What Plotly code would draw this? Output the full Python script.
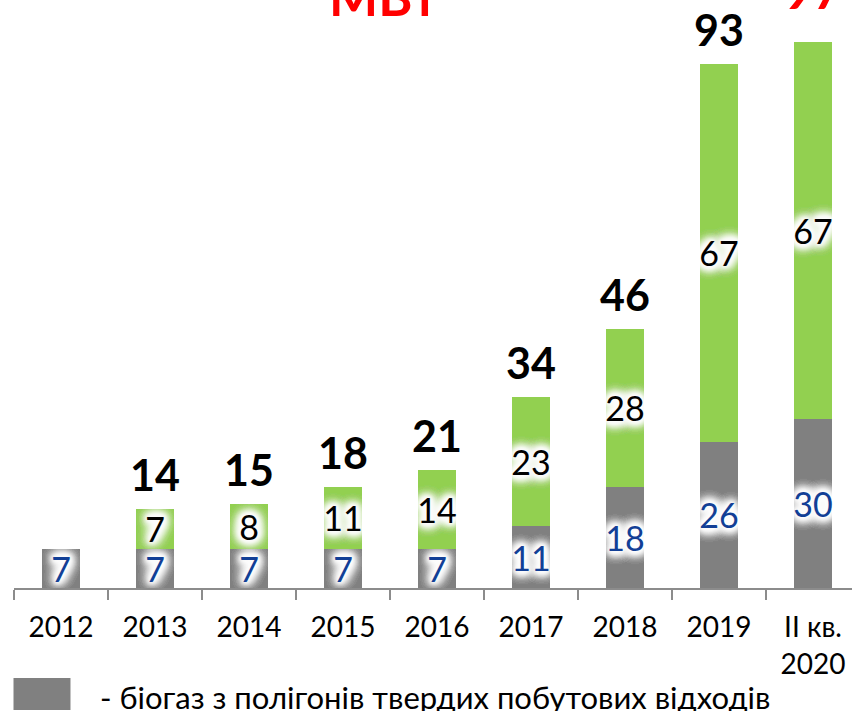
import plotly.graph_objects as go

categories = ["2012", "2013", "2014", "2015", "2016", "2017", "2018", "2019", "II кв.<br>2020"]
biogas = [7, 7, 7, 7, 7, 11, 18, 26, 30]
other = [None, 7, 8, 11, 14, 23, 28, 67, 67]
total_colors = ["black"] * 8 + ["#FF0000"]
title_text = "МВт"
legend_text = "- біогаз з полігонів твердих побутових відходів"

GRAY = "#808080"
GREEN = "#92D050"
BLUE = "#123F96"
FONT = "Lato, Calibri, Carlito, sans-serif"
GLOW = ", ".join(["0px 0px 14px #ffffff"] * 8 + ["0px 0px 8px #ffffff"] * 6 + ["0px 0px 4px #ffffff"] * 3)

fig = go.Figure()
fig.add_trace(go.Bar(
    x=categories, y=biogas, marker=dict(color=GRAY, line=dict(width=0)),
    text=[str(v) for v in biogas], textposition="inside", insidetextanchor="middle",
    textangle=0, constraintext="none",
    textfont=dict(family=FONT, size=34, color=BLUE, shadow=GLOW),
    hoverinfo="skip", showlegend=False,
))
fig.add_trace(go.Bar(
    x=categories, y=other, marker=dict(color=GREEN, line=dict(width=0)),
    text=["" if v is None else str(v) for v in other], textposition="inside",
    insidetextanchor="middle", textangle=0, constraintext="none",
    textfont=dict(family=FONT, size=34, color="black", shadow=GLOW),
    hoverinfo="skip", showlegend=False,
))

totals = [b + (o or 0) for b, o in zip(biogas, other)]
last = len(categories) - 1
for i, (t, o) in enumerate(zip(totals, other)):
    if o is None:
        continue
    fig.add_annotation(
        x=i, y=t, xref="x", yref="y", text=f"<b>{t}</b>", showarrow=False,
        yanchor="bottom", yshift=20 if i == last else 7,
        font=dict(family=FONT, size=50 if i == last else 43, color=total_colors[i]),
    )

fig.add_annotation(
    x=0.4415, y=0.951, xref="paper", yref="paper", text=f"<b>{title_text}</b>",
    showarrow=False, xanchor="center", yanchor="bottom",
    font=dict(family=FONT, size=52, color="#FF0000"),
)

fig.add_shape(type="rect", xref="paper", yref="paper",
              x0=-0.0006, x1=0.0674, y0=-0.153, y1=-0.2075,
              fillcolor=GRAY, line=dict(width=0))
fig.add_annotation(
    x=0.1008, y=-0.1855, xref="paper", yref="paper", text=legend_text,
    showarrow=False, xanchor="left", yanchor="middle",
    font=dict(family=FONT, size=31, color="black"),
)

fig.update_layout(
    width=852, height=711, barmode="stack", bargap=0.6,
    margin=dict(l=13.5, r=0, t=0, b=123, pad=0),
    paper_bgcolor="white", plot_bgcolor="white",
    font=dict(family=FONT, color="black"),
    showlegend=False,
)
fig.update_xaxes(
    type="category", range=[-0.5, 8.415], showgrid=False, zeroline=False,
    showline=True, linecolor="#8C8C8C", linewidth=1.5,
    ticks="outside", tickson="boundaries", ticklen=10, tickcolor="#8C8C8C", tickwidth=1.5,
    ticklabelstandoff=14,
    tickfont=dict(family=FONT, size=28, color="black"), fixedrange=True,
)
fig.update_yaxes(range=[0, 104.4], visible=False, fixedrange=True)

fig.write_html(
    "out.html",
    config={"displayModeBar": False},
    post_script="document.body.style.margin='0';document.body.style.overflow='hidden';",
)
